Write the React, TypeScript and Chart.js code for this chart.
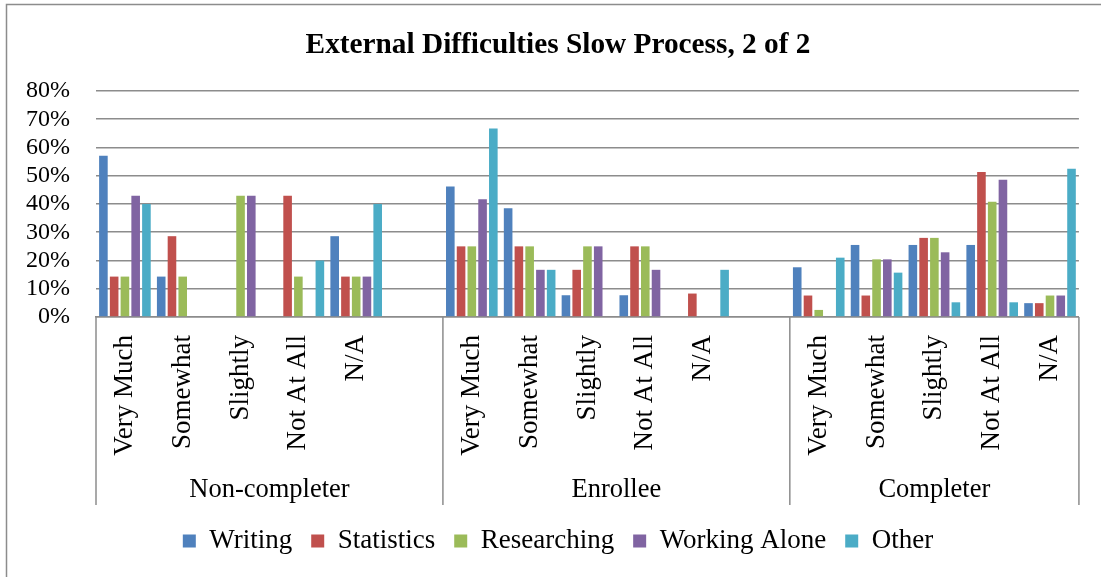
import { useEffect, useRef } from "react";
import { Chart, registerables } from "chart.js";

Chart.register(...registerables);

// Category slots: each group lists five answers; the first two groups keep an empty spacer slot.
const categories = [
  "Very Much", "Somewhat", "Slightly", "Not At All", "N/A", "",
  "Very Much", "Somewhat", "Slightly", "Not At All", "N/A", "",
  "Very Much", "Somewhat", "Slightly", "Not At All", "N/A",
];
const groups = ["Non-completer", "Enrollee", "Completer"];
const groupSizes = [6, 6, 5];

// Percent of respondents per answer
const writing = [57.1, 14.3, 0, 0, 28.6, null, 46.2, 38.5, 7.7, 7.7, 0, null, 17.6, 25.5, 25.5, 25.5, 4.9];
const statistics = [14.3, 28.6, 0, 42.9, 14.3, null, 25, 25, 16.7, 25, 8.3, null, 7.6, 7.6, 28.0, 51.3, 4.9];
const researching = [14.3, 14.3, 42.9, 14.3, 14.3, null, 25, 25, 25, 25, 0, null, 2.5, 20.4, 28.0, 40.8, 7.6];
const workingAlone = [42.9, 0, 42.9, 0, 14.3, null, 41.7, 16.7, 25, 16.7, 0, null, 0, 20.4, 22.9, 48.6, 7.6];
const other = [40, 0, 0, 20, 40, null, 66.7, 16.7, 0, 0, 16.7, null, 21.0, 15.7, 5.2, 5.2, 52.5];

const yMax = 80;
const yStep = 10;

const SERIF = "'Liberation Serif', 'Times New Roman', Times, serif";
const GRID = "#8c8c8c";

// Lets the percent labels use the space left of the value axis box.
const widenValueLabels = {
  id: "widenValueLabels",
  afterLayout(chart: any) {
    chart.scales.y.left = 0;
  },
};

// Draws the outer frame, the group dividers below the axis and the group names.
const groupAxisPlugin = {
  id: "groupAxis",
  afterDraw(chart: any) {
    const { ctx, chartArea } = chart;
    const x = chart.scales.x;
    const slot = x.width / categories.length;
    const base = chartArea.bottom;
    const lineEnd = 505;

    ctx.save();
    ctx.strokeStyle = GRID;
    ctx.lineWidth = 1.5;
    ctx.strokeRect(6.5, 4.5, 1400, 900);

    const edges: number[] = [x.left];
    let count = 0;
    groupSizes.forEach((n) => {
      count += n;
      edges.push(x.getPixelForValue(count - 1) + slot / 2);
    });
    edges.forEach((e) => {
      ctx.beginPath();
      ctx.moveTo(e, base);
      ctx.lineTo(e, lineEnd);
      ctx.stroke();
    });

    ctx.fillStyle = "#000";
    ctx.font = `26.5px ${SERIF}`;
    ctx.textAlign = "center";
    ctx.textBaseline = "middle";
    groups.forEach((g, i) => {
      ctx.fillText(g, (edges[i] + edges[i + 1]) / 2, 490);
    });
    ctx.restore();
  },
};

export default function App() {
  const canvasRef = useRef<HTMLCanvasElement | null>(null);

  useEffect(() => {
    if (!canvasRef.current) return;
    const chart = new Chart(canvasRef.current, {
      type: "bar",
      data: {
        labels: categories,
        datasets: [
          { label: "Writing", data: writing, backgroundColor: "#4F81BD" },
          { label: "Statistics", data: statistics, backgroundColor: "#C0504D" },
          { label: "Researching", data: researching, backgroundColor: "#9BBB59" },
          { label: "Working Alone", data: workingAlone, backgroundColor: "#8064A2" },
          { label: "Other", data: other, backgroundColor: "#4BACC6" },
        ],
      },
      options: {
        animation: false,
        responsive: false,
        devicePixelRatio: 1,
        datasets: {
          bar: { categoryPercentage: 0.93, barPercentage: 0.8 },
        },
        layout: { padding: { top: 0, left: 35, right: 20, bottom: 12.5 } },
        plugins: {
          title: {
            display: true,
            text: "External Difficulties Slow Process, 2 of 2",
            color: "#000",
            font: { family: SERIF, size: 29.3, weight: "bold" },
            padding: { top: 28, bottom: 27.8 },
          },
          legend: {
            position: "bottom",
            labels: {
              boxWidth: 13,
              boxHeight: 13,
              padding: 19,
              color: "#000",
              font: { family: SERIF, size: 27 },
            },
          },
          tooltip: { enabled: false },
        },
        scales: {
          x: {
            grid: { display: false, drawTicks: false },
            border: { display: true, color: GRID, width: 1.5 },
            ticks: {
              autoSkip: false,
              minRotation: 90,
              maxRotation: 90,
              padding: 18,
              color: "#000",
              font: { family: SERIF, size: 27 },
            },
            afterFit: (s: any) => {
              s.height = 191.5;
            },
          },
          y: {
            min: 0,
            max: yMax,
            grid: { color: GRID, lineWidth: 1.5, drawTicks: false },
            border: { display: false },
            ticks: {
              stepSize: yStep,
              autoSkip: false,
              padding: 26,
              color: "#000",
              font: { family: SERIF, size: 24 },
              callback: (v: any) => `${v}%`,
            },
            afterFit: (s: any) => {
              s.width = 61;
            },
          },
        },
      },
      plugins: [widenValueLabels, groupAxisPlugin],
    });
    return () => chart.destroy();
  }, []);

  return (
    <div style={{ position: "fixed", left: 0, top: 0, width: 1101, height: 577, background: "#fff" }}>
      <canvas ref={canvasRef} width={1101} height={577} style={{ display: "block" }} />
    </div>
  );
}
